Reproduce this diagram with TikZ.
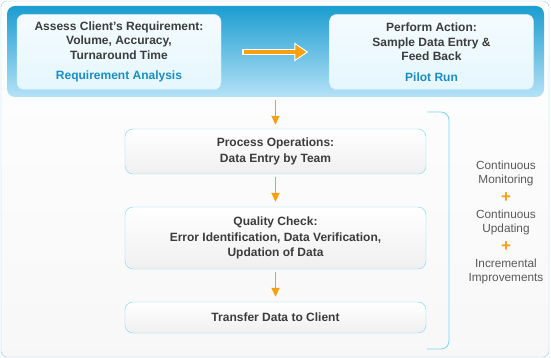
\documentclass[tikz,border=0pt]{standalone}
\usepackage{fontspec}
\setmainfont{Liberation Sans}
\usepackage{tikz}
\usetikzlibrary{arrows.meta,positioning,calc}

\definecolor{frameblue}{HTML}{8ECFEF}
\definecolor{bandtop}{HTML}{1B9DD0}
\definecolor{bandbot}{HTML}{B5E2F7}
\definecolor{boxline}{HTML}{7DD4F7}
\definecolor{txtgray}{HTML}{3C3C3C}
\definecolor{lblblue}{HTML}{1A8DC2}
\definecolor{arrorange}{HTML}{F7A10E}

\begin{document}
\begin{tikzpicture}[x=1pt,y=-1pt,
    topbox/.style={draw=white!60!boxline,rounded corners=7pt,top color=white!92!boxline,bottom color=white!80!boxline,
      minimum width=204pt,minimum height=75pt,align=center,text=txtgray,font=\fontsize{12}{14.5}\selectfont\bfseries},
    stepbox/.style={draw=boxline,rounded corners=8pt,top color=white,bottom color=black!6,
      minimum width=301pt,align=center,text=txtgray,font=\fontsize{12}{15.5}\selectfont\bfseries},
    downarr/.style={draw=arrorange,line width=1.8pt,-{Triangle[length=9pt,width=8pt]}},
    sidetxt/.style={align=center,text=txtgray!85,font=\fontsize{11.8}{14}\selectfont},
    plus/.style={text=arrorange,font=\bfseries\fontsize{17}{17}\selectfont}
  ]
    \useasboundingbox (0,0) rectangle (551,358);
    % frame and band
    \draw[frameblue,rounded corners=6pt,top color=white,bottom color=black!3] (1,1) rectangle (549,357);
    \node[rounded corners=8pt,top color=bandtop,bottom color=bandbot,minimum width=537pt,minimum height=91pt] (band) at (275.5,51.5) {};

    \node[topbox] (assess) at (119,52) {Assess Client's Requirement:\\Volume, Accuracy,\\Turnaround Time\\[6pt]\textcolor{lblblue}{Requirement Analysis}};
    \node[topbox] (pilot) at (431.5,52) {Perform Action:\\Sample Data Entry \&\\Feed Back\\[6pt]\textcolor{lblblue}{Pilot Run}};
    \draw[white,line width=6pt,shorten <=21pt,shorten >=21pt,-{Triangle[length=14pt,width=18pt]}] (assess) -- (pilot);
    \draw[arrorange,line width=4pt,shorten <=23pt,shorten >=23pt,-{Triangle[length=11pt,width=14pt]}] (assess) -- (pilot);

    % steps
    \node[stepbox,minimum height=45pt] (proc) at (275.5,151.5) {Process Operations:\\Data Entry by Team};
    \node[stepbox,minimum height=62pt] (check) at (275.5,238) {Quality Check:\\Error Identification, Data Verification,\\Updation of Data};
    \node[stepbox,minimum height=31pt] (transfer) at (275.5,317.5) {Transfer Data to Client};

    \draw[downarr,shorten <=3pt,shorten >=4pt] (band.south -| proc.north) -- (proc.north);
    \draw[downarr,shorten <=3pt,shorten >=5pt] (proc) -- (check);
    \draw[downarr,shorten <=3pt,shorten >=5pt] (check) -- (transfer);

    % bracket
    \coordinate (brtop) at (427,112);
    \coordinate (brbot) at (427,349);
    \draw[boxline,line width=0.8pt,rounded corners=8pt] (brtop) -- ++(22,0) -- ($(brbot)+(22,0)$) -- (brbot);

    \node[sidetxt] (monitor) at (506,173) {Continuous\\Monitoring};
    \node[plus] (plusa) at (506,198) {+};
    \node[sidetxt] (update) at (506,222) {Continuous\\Updating};
    \node[plus] (plusb) at (506,247) {+};
    \node[sidetxt] (improve) at (506,271) {Incremental\\Improvements};
\end{tikzpicture}
\end{document}
